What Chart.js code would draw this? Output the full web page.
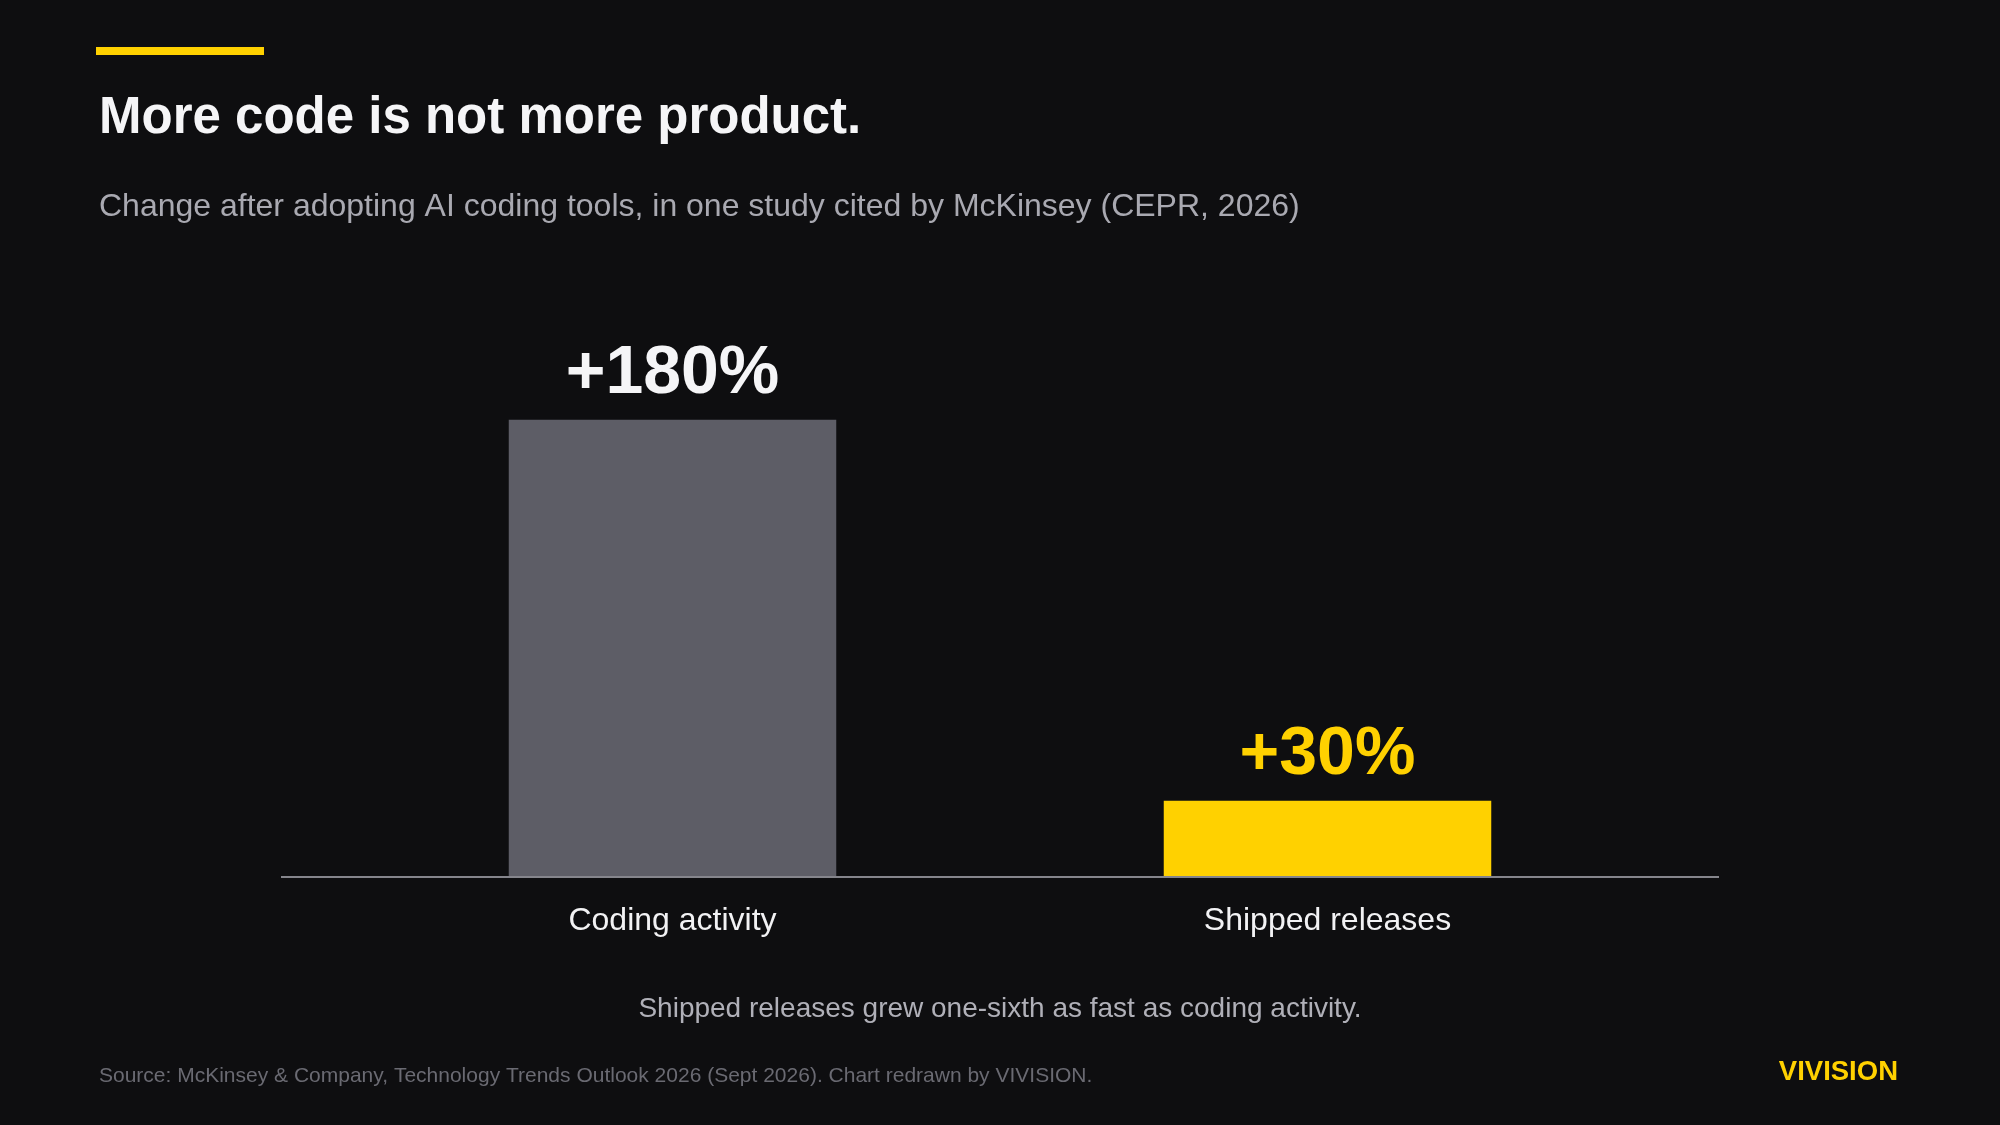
<!DOCTYPE html>
<html>
<head>
<meta charset="utf-8">
<script src="https://cdn.jsdelivr.net/npm/chart.js@4.4.1/dist/chart.umd.min.js"></script>
<style>
  html, body { margin: 0; padding: 0; background: #0e0e10; }
  #wrap { position: relative; width: 2000px; height: 1125px; }
</style>
</head>
<body>
<div id="wrap"><canvas id="grafica" width="2000" height="1125"></canvas></div>
<script>
// datos
const categorias = ['Coding activity', 'Shipped releases'];
const valores = [180, 30];
const etiquetas = ['+180%', '+30%'];
const coloresBarra = ['#5d5d66', '#ffd100'];
const coloresEtiqueta = ['#f5f5f7', '#ffd100'];

const fuente = '"Liberation Sans", Arial, sans-serif';

// textos y adornos de la lamina
const textosPlugin = {
    id: 'textos',
    afterDatasetsDraw(chart) {
        const ctx = chart.ctx;
        const area = chart.chartArea;
        ctx.save();

        // linea base, un poco mas ancha que el area
        ctx.strokeStyle = '#85858c';
        ctx.lineWidth = 2;
        ctx.beginPath();
        ctx.moveTo(area.left - 64, area.bottom);
        ctx.lineTo(area.right + 64, area.bottom);
        ctx.stroke();

        // etiquetas de valor encima de cada barra
        const meta = chart.getDatasetMeta(0);
        ctx.font = 'bold 68px ' + fuente;
        ctx.textAlign = 'center';
        ctx.textBaseline = 'alphabetic';
        meta.data.forEach((bar, i) => {
            ctx.fillStyle = coloresEtiqueta[i];
            ctx.fillText(etiquetas[i], bar.x, bar.y - 27);
        });

        // acento amarillo
        ctx.fillStyle = '#ffd100';
        ctx.fillRect(96, 47, 168, 8);

        ctx.textAlign = 'left';
        ctx.fillStyle = '#f5f5f7';
        ctx.font = 'bold 51px ' + fuente;
        ctx.fillText('More code is not more product.', 99, 133);

        ctx.fillStyle = '#a9a9b1';
        ctx.font = '32px ' + fuente;
        ctx.fillText('Change after adopting AI coding tools, in one study cited by McKinsey (CEPR, 2026)', 99, 216);

        ctx.textAlign = 'center';
        ctx.fillStyle = '#b0b0b8';
        ctx.font = '28px ' + fuente;
        ctx.fillText('Shipped releases grew one-sixth as fast as coding activity.', 1000, 1017);

        ctx.textAlign = 'left';
        ctx.fillStyle = '#6a6a72';
        ctx.font = '21px ' + fuente;
        ctx.fillText('Source: McKinsey & Company, Technology Trends Outlook 2026 (Sept 2026). Chart redrawn by VIVISION.', 99, 1082);

        ctx.textAlign = 'right';
        ctx.fillStyle = '#ffd100';
        ctx.font = 'bold 27.5px ' + fuente;
        ctx.fillText('VIVISION', 1898, 1080);

        ctx.restore();
    }
};

const ctx = document.getElementById('grafica').getContext('2d');
new Chart(ctx, {
    type: 'bar',
    data: {
        labels: categorias,
        datasets: [{
            data: valores,
            backgroundColor: coloresBarra,
            borderWidth: 0,
            barPercentage: 0.5,
            categoryPercentage: 1.0
        }]
    },
    options: {
        responsive: false,
        animation: false,
        layout: {
            padding: { top: 369, bottom: 148, left: 345, right: 345 }
        },
        plugins: {
            legend: { display: false },
            tooltip: { enabled: false }
        },
        scales: {
            x: {
                grid: { display: false },
                border: { display: false },
                afterFit(scale) { scale.height = 100; },
                ticks: {
                    color: '#f2f2f4',
                    padding: 17,
                    font: { family: fuente, size: 32 }
                }
            },
            y: {
                display: false,
                min: 0,
                max: 200
            }
        }
    },
    plugins: [textosPlugin]
});
</script>
</body>
</html>
